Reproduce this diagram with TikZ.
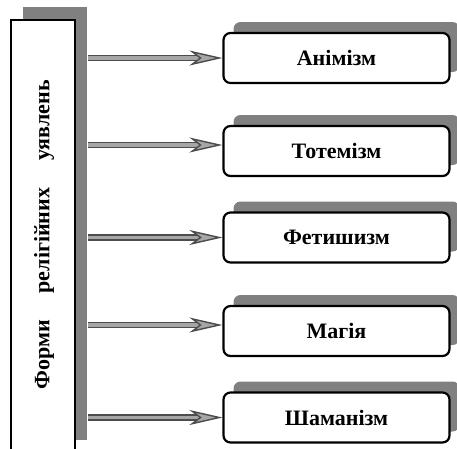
\documentclass[tikz,border=0pt]{standalone}
\usepackage{fontspec}
\setmainfont{Liberation Serif}
\usetikzlibrary{arrows.meta,shadows}

\tikzset{
  kind/.style={draw=black, line width=2.2pt, rounded corners=7pt, fill=white,
    minimum width=226pt, minimum height=50pt, inner sep=0pt,
    font=\bfseries\fontsize{22}{24}\selectfont,
    drop shadow={shadow xshift=10pt, shadow yshift=11pt, fill=gray, opacity=1}},
  mainbox/.style={draw=black, line width=2.2pt, fill=white,
    minimum width=64pt, minimum height=433pt, inner sep=0pt,
    drop shadow={shadow xshift=12pt, shadow yshift=13pt, fill=gray, opacity=1}},
  link/.style={draw=black!70, line width=1.4pt, double=gray!70, double distance=3.4pt,
    -{Stealth[length=33pt, width=15pt, inset=10pt, fill=gray!70]}}
}

\begin{document}
\begin{tikzpicture}[x=1pt, y=-1pt]
		\useasboundingbox (0,0) rectangle (457,448);
		\clip (0,0) rectangle (457,448);
		
		% main box on the left
		\node[mainbox] (forms) at (43,236.5) {};
		\node[rotate=90, font=\bfseries\fontsize{22}{24}\selectfont] (title) at (44,235)
			{Форми\hspace{27pt}релігійних\hspace{27pt}уявлень};
		
		% the five forms
		\node[kind] (anim) at (336.5,58) {Анімізм};
		\node[kind] (totem) at (336.5,151) {Тотемізм};
		\node[kind] (fetish) at (336.5,237.5) {Фетишизм};
		\node[kind] (magic) at (336.5,331) {Магія};
		\node[kind] (shaman) at (336.5,417.5) {Шаманізм};
		
		% arrows start at the edge of the shadow
		\draw[link] ([xshift=12pt]forms.east |- anim.west) -- (anim.west);
		\draw[link] ([xshift=12pt,yshift=6pt]forms.east |- totem.west) -- ([yshift=6pt]totem.west);
		\draw[link] ([xshift=12pt]forms.east |- fetish.west) -- (fetish.west);
		\draw[link] ([xshift=12pt,yshift=6pt]forms.east |- magic.west) -- ([yshift=6pt]magic.west);
		\draw[link] ([xshift=12pt]forms.east |- shaman.west) -- (shaman.west);
	\end{tikzpicture}
\end{document}
